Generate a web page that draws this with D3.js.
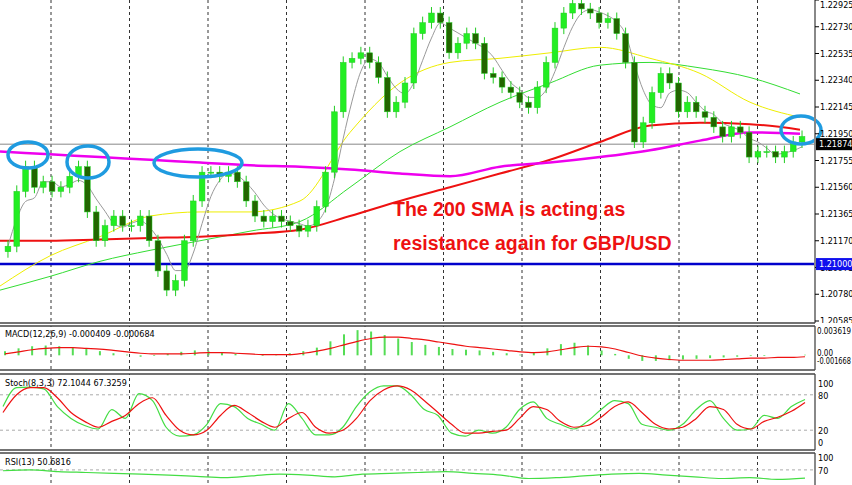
<!DOCTYPE html><html><head><meta charset="utf-8"><script src="https://cdn.jsdelivr.net/npm/d3@7"></script>
<style>body{margin:0;background:#fff}svg{display:block;font-family:"DejaVu Sans Condensed","DejaVu Sans",sans-serif}</style></head><body><svg id="c" width="852" height="485"></svg><script>
const closes=[1.2113,1.2153,1.2171,1.2156,1.2160,1.2153,1.2156,1.2164,1.2171,1.2138,1.2117,1.2128,1.2135,1.2128,1.2128,1.2135,1.2117,1.2095,1.2081,1.2088,1.2117,1.2146,1.2167,1.2167,1.2164,1.2167,1.2160,1.2146,1.2135,1.2131,1.2135,1.2131,1.2128,1.2124,1.2128,1.2142,1.2167,1.2211,1.2247,1.2250,1.2254,1.2247,1.2236,1.2211,1.2218,1.2232,1.2268,1.2276,1.2283,1.2276,1.2254,1.2261,1.2268,1.2261,1.2239,1.2236,1.2229,1.2225,1.2218,1.2214,1.2229,1.2247,1.2272,1.2283,1.2290,1.2286,1.2283,1.2276,1.2279,1.2268,1.2247,1.2189,1.2203,1.2225,1.2239,1.2232,1.2211,1.2218,1.2211,1.2207,1.2200,1.2193,1.2200,1.2196,1.2178,1.2182,1.2182,1.2178,1.2182,1.2189,1.2193];
const sma200=[1.2182,1.2180,1.2178,1.2176,1.2174,1.2172,1.2171,1.2169,1.2166,1.2164,1.2171,1.2174,1.2178,1.2183,1.2190,1.2196,1.2195];
const smaRed=[1.2117,1.2117,1.2118,1.2119,1.2120,1.2122,1.2125,1.2135,1.2146,1.2156,1.2166,1.2176,1.2189,1.2201,1.2203,1.2202,1.2198];
const smaGreen=[1.2081,1.2091,1.2102,1.2110,1.2117,1.2124,1.2131,1.2156,1.2182,1.2200,1.2218,1.2232,1.2245,1.2247,1.2243,1.2236,1.2224];
const smaYellow=[1.2084,1.2106,1.2120,1.2135,1.2138,1.2138,1.2146,1.2196,1.2232,1.2247,1.2250,1.2254,1.2258,1.2250,1.2239,1.2218,1.2207];
const priceTicks=[1.22925,1.22730,1.22535,1.22340,1.22145,1.21950,1.21755,1.21560,1.21365,1.21170,1.20975,1.20780,1.20585];
const macdHist=[0.0006,0.0010,0.0013,0.0014,0.0013,0.0011,0.0009,0.0006,0.0003,0.0001,-0.0002,-0.0001,0.0002,0.0005,0.0007,0.0006,0.0004,0.0002,0.0000,-0.0001,0.0001,0.0003,0.0006,0.0011,0.0020,0.0030,0.0036,0.0034,0.0029,0.0024,0.0019,0.0015,0.0012,0.0009,0.0008,0.0007,0.0005,0.0003,0.0001,0.0004,0.0010,0.0016,0.0018,0.0014,0.0007,0.0002,-0.0005,-0.0008,-0.0008,-0.0007,-0.0006,-0.0005,-0.0004,-0.0003,-0.0002,-0.0001,-0.0001,0.0000,0.0000,0.0001];
const macdSig=[0.0002,0.0005,0.0008,0.0010,0.0011,0.0011,0.0010,0.0009,0.0007,0.0005,0.0003,0.0002,0.0002,0.0002,0.0003,0.0004,0.0004,0.0003,0.0002,0.0001,0.0001,0.0001,0.0003,0.0006,0.0010,0.0015,0.0020,0.0024,0.0026,0.0026,0.0024,0.0022,0.0019,0.0016,0.0013,0.0011,0.0009,0.0007,0.0005,0.0004,0.0005,0.0008,0.0011,0.0013,0.0012,0.0009,0.0004,-0.0001,-0.0004,-0.0006,-0.0007,-0.0007,-0.0007,-0.0006,-0.0005,-0.0004,-0.0004,-0.0003,-0.0003,-0.0002];
const stochK=[60,92,93,90,60,40,28,22,55,40,82,70,25,10,12,30,65,60,40,30,20,65,40,12,12,25,60,85,95,95,80,55,45,15,10,20,15,25,55,68,40,30,22,35,55,70,65,30,25,20,30,55,70,40,20,22,45,40,60,72];
const stochD=[50,80,92,92,75,50,35,25,35,45,65,75,45,20,12,20,45,62,50,35,25,40,50,25,15,20,40,70,88,95,88,70,50,30,15,15,18,20,40,60,55,35,25,28,42,60,68,50,30,22,25,40,60,55,30,22,35,42,52,67];
const rsiVals=[68,70,66,64,62,60,58,55,52,56,60,58,54,60,62,64,66,62,58,50,52,56,60,62,58,54,50,52,48,51];
const stTicks=[100,80,20,0];

const svg=d3.select("#c");
const W=815,FS=9;
const x=d3.scaleBand().domain(d3.range(closes.length)).range([2,808]).padding(0.35);
const y=d3.scaleLinear().domain([1.20585,1.22925]).range([321,0]);
const xs=d3.scaleLinear().domain([0,16]).range([0,800]);
const vx=[51,129.5,208,286.5,365,443.5,522,600.5,679,757.5];
vx.forEach(v=>svg.append("line").attr("x1",v).attr("x2",v).attr("y1",0).attr("y2",485).attr("stroke","#333").attr("stroke-dasharray","3,3").attr("stroke-width",1));
svg.append("line").attr("x1",0).attr("x2",W).attr("y1",y(1.21874)).attr("y2",y(1.21874)).attr("stroke","#888");
svg.append("line").attr("x1",0).attr("x2",W).attr("y1",y(1.21)).attr("y2",y(1.21)).attr("stroke","#0000cc").attr("stroke-width",2.5);
const ln=d3.line().x((d,i)=>xs(i)).y(d=>y(d)).curve(d3.curveMonotoneX);
[[smaGreen,"#33dd33",1],[smaYellow,"#eeee00",1],[smaRed,"#ee1111",2],[sma200,"#ee00ee",2.5]].forEach(([a,c,w])=>svg.append("path").attr("d",ln(a)).attr("fill","none").attr("stroke",c).attr("stroke-width",w));
const sm=closes.map((c,i)=>d3.mean(closes.slice(Math.max(0,i-3),i+1)));
svg.append("path").attr("d",d3.line().x((d,i)=>x(i)+x.bandwidth()/2).y(d=>y(d)).curve(d3.curveMonotoneX)(sm)).attr("fill","none").attr("stroke","#999").attr("stroke-width",1);
closes.forEach((c,i)=>{const o=i?closes[i-1]:c-0.0004;const up=c>=o;const cx=x(i)+x.bandwidth()/2;
 const t=y(Math.max(o,c)),b=y(Math.min(o,c));
 svg.append("line").attr("x1",cx).attr("x2",cx).attr("y1",t-6).attr("y2",b+6).attr("stroke","#22cc22");
 svg.append("rect").attr("x",x(i)).attr("width",x.bandwidth()).attr("y",t).attr("height",Math.max(1,b-t)).attr("fill",up?"#22ee22":"#226600").attr("stroke","#22cc22").attr("stroke-width",0.5);});
[[28,155,20,13],[88,162,21,16],[198,163,44,14],[801,130,20,14]].forEach(e=>svg.append("ellipse").attr("cx",e[0]).attr("cy",e[1]).attr("rx",e[2]).attr("ry",e[3]).attr("fill","none").attr("stroke","#1f9be0").attr("stroke-width",3.5));
const tx=svg.append("text").attr("fill","#ee1111").attr("font-family","'Liberation Sans',Arial,sans-serif").attr("font-weight","bold").attr("font-size",19.5);
tx.append("tspan").attr("x",393).attr("y",216).text("The 200 SMA is acting as");
tx.append("tspan").attr("x",393).attr("y",250).text("resistance again for GBP/USD");
svg.append("line").attr("x1",W).attr("x2",W).attr("y1",0).attr("y2",485).attr("stroke","#888").attr("stroke-width",2);
priceTicks.forEach(p=>{svg.append("line").attr("x1",W).attr("x2",W+4).attr("y1",y(p)).attr("y2",y(p)).attr("stroke","#000");
 svg.append("text").attr("x",W+5).attr("y",Math.max(8,y(p)+3)).attr("font-size",FS).text(p.toFixed(5));});
[[1.21874,"#000"],[1.21,"#1010ee"]].forEach(([p,c])=>{svg.append("rect").attr("x",W+1).attr("y",y(p)-6).attr("width",36).attr("height",12).attr("fill",c);
 svg.append("text").attr("x",W+4).attr("y",y(p)+3).attr("font-size",FS).attr("fill","#fff").text(p.toFixed(5));});
[[323,326],[370,374],[450,453]].forEach(([a,b])=>{svg.append("rect").attr("x",0).attr("y",a).attr("width",852).attr("height",b-a).attr("fill","#fff");
 svg.append("line").attr("x1",0).attr("x2",W).attr("y1",a).attr("y2",a).attr("stroke","#444").attr("stroke-width",1.5);
 svg.append("line").attr("x1",0).attr("x2",W).attr("y1",b).attr("y2",b).attr("stroke","#444").attr("stroke-width",1.5);});
const xm=d3.scaleLinear().domain([0,macdHist.length-1]).range([5,805]);
const ym=d3.scaleLinear().domain([-0.001668,0.003619]).range([367,330]);
macdHist.forEach((v,i)=>svg.append("line").attr("x1",xm(i)).attr("x2",xm(i)).attr("y1",ym(0)).attr("y2",ym(v)).attr("stroke","#55dd55").attr("stroke-width",2));
svg.append("path").attr("d",d3.line().x((d,i)=>xm(i)).y(d=>ym(d)).curve(d3.curveMonotoneX)(macdSig)).attr("fill","none").attr("stroke","#ee1111").attr("stroke-width",1.2);
svg.append("text").attr("x",5).attr("y",337).attr("font-size",FS).text("MACD(12,26,9) -0.000409 -0.000684");
[["0.003619",ym(0.003619)+4],["0.00",ym(0)+1],["-0.001668",ym(0)+9]].forEach(([t,yy])=>svg.append("text").attr("x",W+2).attr("y",yy).attr("font-size",8).attr("textLength",t.length>4?34:16).attr("lengthAdjust","spacingAndGlyphs").text(t));
const xst=d3.scaleLinear().domain([0,stochK.length-1]).range([3,805]);
const yst=d3.scaleLinear().domain([0,100]).range([442,383]);
[80,20].forEach(v=>svg.append("line").attr("x1",0).attr("x2",W).attr("y1",yst(v)).attr("y2",yst(v)).attr("stroke","#aaa").attr("stroke-dasharray","3,3"));
const sl=d3.line().x((d,i)=>xst(i)).y(d=>yst(d)).curve(d3.curveMonotoneX);
svg.append("path").attr("d",sl(stochK)).attr("fill","none").attr("stroke","#44dd44").attr("stroke-width",1.2);
svg.append("path").attr("d",sl(stochD)).attr("fill","none").attr("stroke","#ee1111").attr("stroke-width",1.2);
svg.append("text").attr("x",5).attr("y",386).attr("font-size",FS).text("Stoch(8,3,3) 72.1044 67.3259");
stTicks.forEach(v=>svg.append("text").attr("x",W+3).attr("y",yst(v)+4).attr("font-size",FS).text(v));
const xr=d3.scaleLinear().domain([0,rsiVals.length-1]).range([3,805]);
const yr=d3.scaleLinear().domain([0,100]).range([500,457]);
svg.append("line").attr("x1",0).attr("x2",W).attr("y1",yr(70)).attr("y2",yr(70)).attr("stroke","#aaa").attr("stroke-dasharray","3,3");
svg.append("path").attr("d",d3.line().x((d,i)=>xr(i)).y(d=>yr(d)).curve(d3.curveMonotoneX)(rsiVals)).attr("fill","none").attr("stroke","#44dd44").attr("stroke-width",1.2);
svg.append("text").attr("x",5).attr("y",465).attr("font-size",FS).text("RSI(13) 50.6816");
[100,70].forEach(v=>svg.append("text").attr("x",W+3).attr("y",yr(v)+4).attr("font-size",FS).text(v));
</script></body></html>
